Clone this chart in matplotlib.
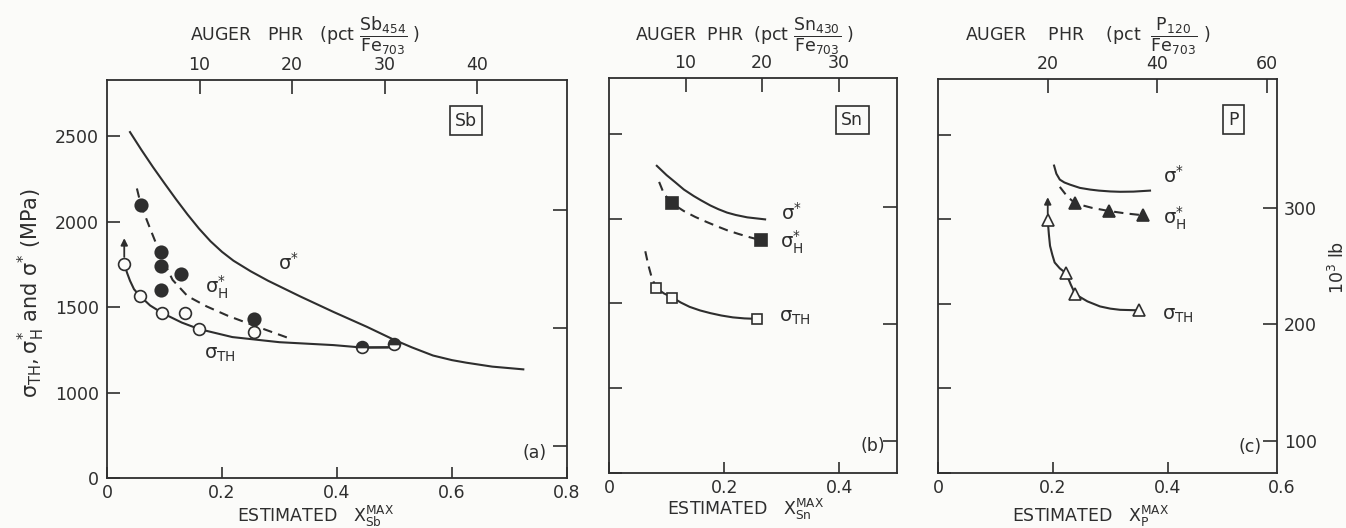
import numpy as np
import matplotlib
matplotlib.use("Agg")
import matplotlib.pyplot as plt

plt.rcParams['font.family'] = ['DejaVu Sans']
plt.rcParams['mathtext.default'] = 'regular'

INK = '#2e2e2e'
BG = '#fbfbf9'
MPA_PER_KSI = 6.895

# ---------------- data ----------------
# (a) Sb
sb_sig_star_x = [0.040, 0.060, 0.080, 0.100, 0.120, 0.140, 0.160, 0.180, 0.200, 0.220, 0.250,
                 0.280, 0.336, 0.394, 0.452, 0.498, 0.530, 0.567, 0.600, 0.625, 0.670, 0.724]
sb_sig_star_y = [2525, 2420, 2320, 2225, 2132, 2043, 1960, 1886, 1824, 1772, 1710,
                 1655, 1563, 1472, 1385, 1311, 1265, 1217, 1190, 1175, 1152, 1136]
sb_sigH_line_x = [0.052, 0.059, 0.075, 0.094, 0.114, 0.140, 0.173, 0.210, 0.256, 0.321]
sb_sigH_line_y = [2195, 2098, 1960, 1800, 1660, 1565, 1505, 1450, 1392, 1313]
sb_sigTH_line_x = [0.030, 0.035, 0.040, 0.047, 0.057, 0.075, 0.096, 0.130, 0.160, 0.218, 0.300, 0.394, 0.443, 0.488]
sb_sigTH_line_y = [1754, 1700, 1655, 1605, 1567, 1510, 1466, 1410, 1372, 1325, 1295, 1278, 1264, 1264]
sb_open_x = [0.030, 0.057, 0.096, 0.136, 0.160, 0.256]
sb_open_y = [1754, 1567, 1466, 1466, 1375, 1356]
sb_filled_x = [0.059, 0.094, 0.094, 0.129, 0.094, 0.256]
sb_filled_y = [2098, 1822, 1744, 1694, 1598, 1431]
sb_half_x = [0.443, 0.499]
sb_half_y = [1266, 1286]
sb_arrow = (0.030, 1754, 1904)

# (b) Sn
sn_sig_star_x = [0.083, 0.100, 0.115, 0.130, 0.147, 0.160, 0.176, 0.190, 0.205, 0.220, 0.240, 0.271]
sn_sig_star_y = [2312, 2257, 2215, 2172, 2134, 2108, 2078, 2056, 2036, 2022, 2008, 1996]
sn_sigH_line_x = [0.087, 0.095, 0.109, 0.130, 0.150, 0.170, 0.187, 0.205, 0.225, 0.245, 0.264]
sn_sigH_line_y = [2217, 2150, 2091, 2045, 2010, 1980, 1956, 1932, 1910, 1890, 1873]
sn_sigTH_dash_x = [0.063, 0.068, 0.074, 0.082]
sn_sigTH_dash_y = [1808, 1730, 1655, 1591]
sn_sigTH_line_x = [0.082, 0.095, 0.110, 0.125, 0.140, 0.158, 0.176, 0.195, 0.215, 0.235, 0.257]
sn_sigTH_line_y = [1591, 1560, 1535, 1505, 1480, 1459, 1443, 1429, 1418, 1412, 1409]
sn_filled_x = [0.109, 0.264]
sn_filled_y = [2091, 1873]
sn_open_x = [0.082, 0.110, 0.257]
sn_open_y = [1591, 1535, 1409]

# (c) P
p_sig_star_x = [0.202, 0.206, 0.212, 0.220, 0.230, 0.247, 0.265, 0.280, 0.300, 0.317, 0.340, 0.369]
p_sig_star_y = [2318, 2270, 2235, 2218, 2205, 2186, 2176, 2170, 2165, 2163, 2164, 2170]
p_sigH_line_x = [0.212, 0.225, 0.239, 0.268, 0.298, 0.327, 0.357]
p_sigH_line_y = [2192, 2135, 2094, 2068, 2049, 2035, 2024]
p_sigTH_line_x = [0.191, 0.193, 0.195, 0.199, 0.203, 0.212, 0.223, 0.231, 0.239, 0.260, 0.282, 0.300, 0.317, 0.350]
p_sigTH_line_y = [1994, 1910, 1843, 1790, 1745, 1710, 1681, 1615, 1557, 1515, 1485, 1472, 1465, 1462]
p_filled_x = [0.239, 0.298, 0.357]
p_filled_y = [2094, 2049, 2024]
p_open_x = [0.191, 0.223, 0.239, 0.350]
p_open_y = [1994, 1681, 1557, 1466]
p_arrow = (0.191, 1994, 2131)

# axis ticks
y_ticks = [500, 1000, 1500, 2000, 2500]
y_ticklabels = ['0', '1000', '1500', '2000', '2500']
ksi_ticks = [100, 200, 300]
top_ticks_sb = [10, 20, 30, 40]
top_ticks_sn = [10, 20, 30]
top_ticks_p = [20, 40, 60]


W, H = 1346, 528
fig = plt.figure(figsize=(W / 100, H / 100), dpi=100)
fig.patch.set_facecolor(BG)


def px_axes(x0, x1, y0, y1):
    '''make an axes from pixel edges (left, right, top, bottom)'''
    return fig.add_axes([x0 / W, 1 - y1 / H, (x1 - x0) / W, (y1 - y0) / H])


def style_axes(ax, xmax, xticks, xlabels, top_ticks, scale, left_labels, right_labels):
    ax.set_facecolor(BG)
    ax.set_xlim(0, xmax)
    ax.set_ylim(500, 2830)
    for s in ax.spines.values():
        s.set_linewidth(1.3)
        s.set_color(INK)
    ax.set_xticks(xticks)
    ax.set_xticklabels(xlabels)
    ax.set_yticks(y_ticks)
    ax.set_yticklabels(y_ticklabels if left_labels else [])
    ax.tick_params(direction='in', length=9, width=1.2, color=INK,
                   labelcolor=INK, labelsize=12.5, pad=6)
    ax.tick_params(axis='x', length=8, pad=4)

    top = ax.secondary_xaxis('top', functions=(lambda x: x / scale, lambda t: t * scale))
    top.set_xticks(top_ticks)
    top.tick_params(direction='in', length=10, width=1.2, color=INK,
                    labelcolor=INK, labelsize=12.5, pad=4)
    top.spines['top'].set_visible(False)

    right = ax.secondary_yaxis('right', functions=(lambda v: v / MPA_PER_KSI, lambda k: k * MPA_PER_KSI))
    right.set_yticks(ksi_ticks)
    if not right_labels:
        right.set_yticklabels([])
    right.tick_params(direction='in', length=10, width=1.2, color=INK,
                      labelcolor=INK, labelsize=12.5, pad=5)
    right.spines['right'].set_visible(False)


def curve(ax, x, y, dashed=False):
    ls = (0, (4.5, 3)) if dashed else '-'
    ax.plot(x, y, ls=ls, color=INK, lw=1.5, zorder=2)


def sym(ax, x, y, marker, filled, ms=8, **kw):
    ax.plot(x, y, ls='none', marker=marker, ms=ms, mew=1.2, mec=INK,
            mfc=INK if filled else BG, zorder=3, **kw)


def arrow(ax, a):
    x, y0, y1 = a
    ax.annotate('', xy=(x, y1), xytext=(x, y0 + 40),
                arrowprops=dict(arrowstyle='-|>', color=INK, lw=1.3,
                                mutation_scale=10, shrinkA=0, shrinkB=0))


def label(ax, x, y, s):
    ax.text(x, y, s, color=INK, fontsize=14, ha='center', va='center')


def boxed(ax, x, y, s):
    ax.text(x, y, s, transform=ax.transAxes, color=INK, fontsize=12.5,
            ha='center', va='center',
            bbox=dict(boxstyle='square,pad=0.3', fc=BG, ec=INK, lw=1.2))


# ---------------- (a) Sb ----------------
ax_a = px_axes(107, 567, 80, 478)
style_axes(ax_a, 0.8, [0, 0.2, 0.4, 0.6, 0.8], ['0', '0.2', '0.4', '0.6', '0.8'],
           top_ticks_sb, 0.0161, True, False)
curve(ax_a, sb_sig_star_x, sb_sig_star_y)
curve(ax_a, sb_sigH_line_x, sb_sigH_line_y, dashed=True)
curve(ax_a, sb_sigTH_line_x, sb_sigTH_line_y)
ax_a.plot([sb_half_x[0], sb_half_x[1]], [1264, 1266], color=INK, lw=1.5, zorder=2)
sym(ax_a, sb_open_x, sb_open_y, 'o', False, ms=8.5)
sym(ax_a, sb_filled_x, sb_filled_y, 'o', True, ms=9)
sym(ax_a, sb_half_x, sb_half_y, 'o', True, ms=8.5, fillstyle='top', markerfacecoloralt=BG)
arrow(ax_a, sb_arrow)
label(ax_a, 0.315, 1761, r'$\sigma^{*}$')
label(ax_a, 0.19, 1615, r'$\sigma^{*}_{H}$')
label(ax_a, 0.197, 1224, r'$\sigma_{TH}$')
boxed(ax_a, 0.780, 0.898, 'Sb')
ax_a.text(0.930, 0.063, '(a)', transform=ax_a.transAxes, color=INK, fontsize=12.5,
          ha='center', va='center')

# ---------------- (b) Sn ----------------
ax_b = px_axes(609, 897, 78, 473)
style_axes(ax_b, 0.5, [0, 0.2, 0.4], ['0', '0.2', '0.4'],
           top_ticks_sn, 0.0133, False, False)
curve(ax_b, sn_sig_star_x, sn_sig_star_y)
curve(ax_b, sn_sigH_line_x, sn_sigH_line_y, dashed=True)
curve(ax_b, sn_sigTH_dash_x, sn_sigTH_dash_y, dashed=True)
curve(ax_b, sn_sigTH_line_x, sn_sigTH_line_y)
sym(ax_b, sn_filled_x, sn_filled_y, 's', True, ms=8)
sym(ax_b, sn_open_x, sn_open_y, 's', False, ms=7.5)
label(ax_b, 0.317, 2037, r'$\sigma^{*}$')
label(ax_b, 0.317, 1860, r'$\sigma^{*}_{H}$')
label(ax_b, 0.323, 1415, r'$\sigma_{TH}$')
boxed(ax_b, 0.845, 0.894, 'Sn')
ax_b.text(0.917, 0.068, '(b)', transform=ax_b.transAxes, color=INK, fontsize=12.5,
          ha='center', va='center')

# ---------------- (c) P ----------------
ax_c = px_axes(938, 1277, 79, 473)
style_axes(ax_c, 0.59, [0, 0.2, 0.4], ['0', '0.2', '0.4'],
           top_ticks_p, 0.00955, False, True)
curve(ax_c, p_sig_star_x, p_sig_star_y)
curve(ax_c, p_sigH_line_x, p_sigH_line_y, dashed=True)
curve(ax_c, p_sigTH_line_x, p_sigTH_line_y)
sym(ax_c, p_filled_x, p_filled_y, '^', True, ms=9)
sym(ax_c, p_open_x, p_open_y, '^', False, ms=9)
arrow(ax_c, p_arrow)
label(ax_c, 0.41, 2259, r'$\sigma^{*}$')
label(ax_c, 0.412, 2006, r'$\sigma^{*}_{H}$')
label(ax_c, 0.417, 1429, r'$\sigma_{TH}$')
boxed(ax_c, 0.873, 0.897, 'P')
ax_c.text(0.920, 0.066, '(c)', transform=ax_c.transAxes, color=INK, fontsize=12.5,
          ha='center', va='center')
# the 0.6 end label sits on the right corner
fig.text(1282 / W, 1 - 488 / H, '0.6', color=INK, fontsize=12.5, ha='center', va='center')

# ---------------- figure texts ----------------
fig.text(31 / W, 1 - 293 / H, r'$\sigma_{TH}, \sigma^{*}_{H}$ and $\sigma^{*}$ (MPa)',
         rotation=90, color=INK, fontsize=15, ha='center', va='center')
fig.text(1338 / W, 1 - 267 / H, r'$10^{3}$ lb', rotation=90, color=INK,
         fontsize=12.5, ha='center', va='center')

tops = [(190, 'AUGER   PHR   (pct ', 'Sb', '454'),
        (635, 'AUGER  PHR  (pct ', 'Sn', '430'),
        (965, 'AUGER    PHR    (pct  ', 'P', '120')]
for x0, head, el, ev in tops:
    fig.text(x0 / W, 1 - 36 / H,
             head + r'$\dfrac{%s_{%s}}{Fe_{703}}$ )' % (el, ev),
             color=INK, fontsize=12.5, ha='left', va='center')

bottoms = [(237, 522, 'Sb'), (667, 515, 'Sn'), (1012, 522, 'P')]
for x0, yb, el in bottoms:
    fig.text(x0 / W, 1 - yb / H, r'ESTIMATED   $X^{MAX}_{%s}$' % el,
             color=INK, fontsize=12.5, ha='left', va='baseline')

fig.savefig('out.png', dpi=100, facecolor=BG)
